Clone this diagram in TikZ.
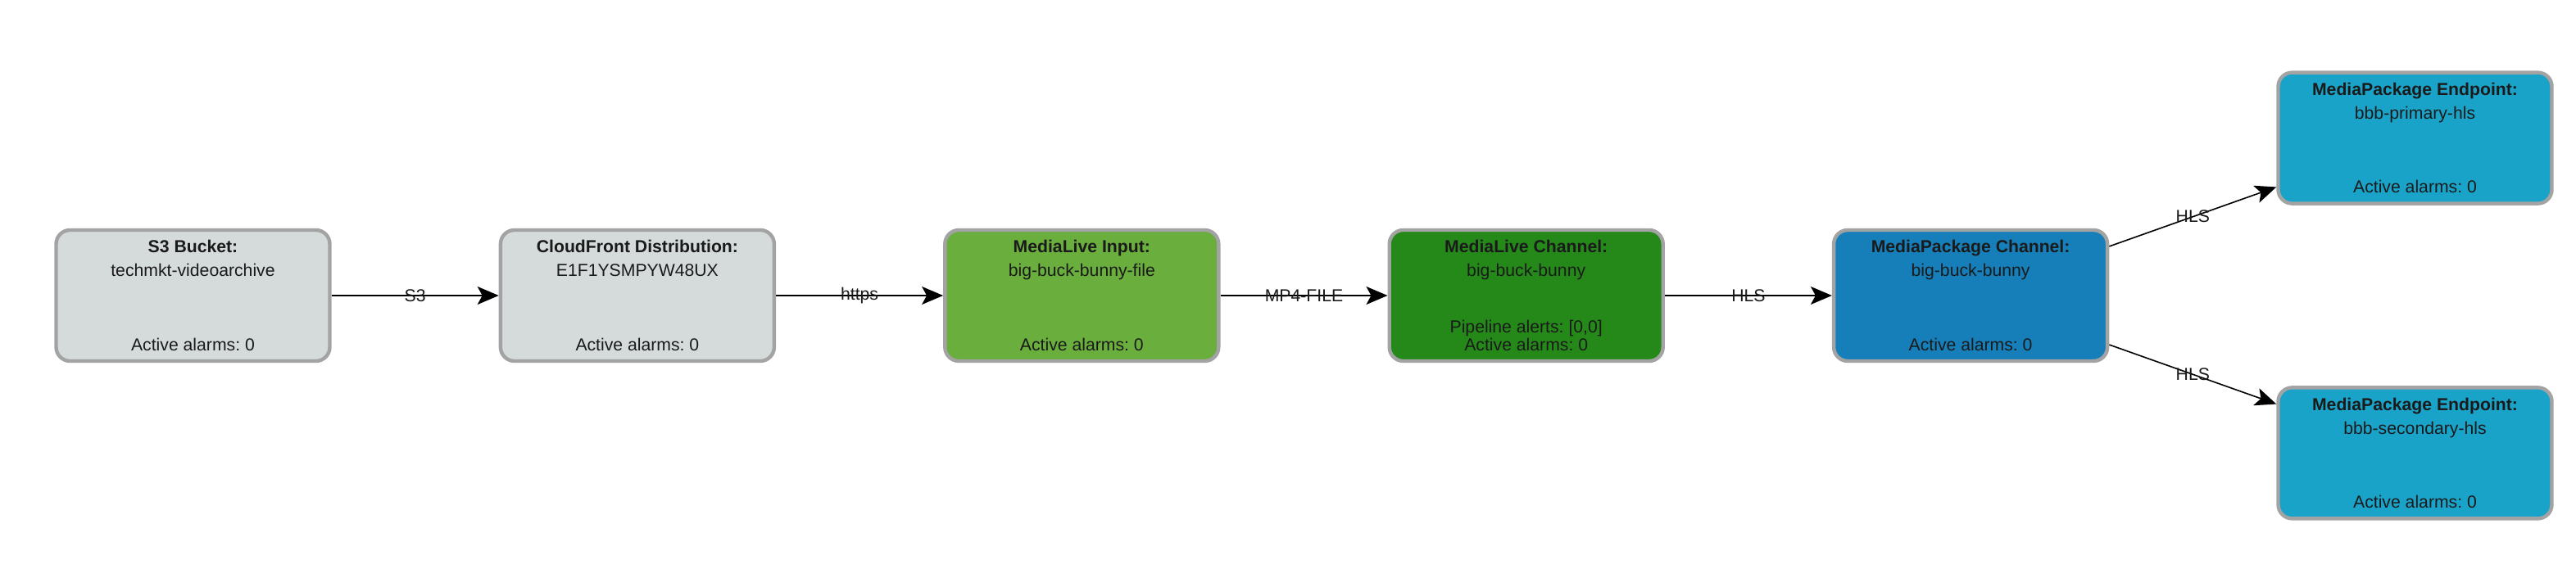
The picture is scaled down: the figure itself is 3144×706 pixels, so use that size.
\documentclass[tikz,border=0pt]{standalone}
\usepackage{fontspec}
\setmainfont{Liberation Sans}
\usetikzlibrary{positioning,arrows.meta}
\frenchspacing

\definecolor{boxgrey}{HTML}{D5DBDB}
\definecolor{boxedge}{HTML}{A3A3A3}
\definecolor{liveinput}{HTML}{6AAE3E}
\definecolor{livechannel}{HTML}{25891A}
\definecolor{pkgchannel}{HTML}{167FBA}
\definecolor{pkgendpoint}{HTML}{1AA3C9}
\definecolor{labelink}{HTML}{1A1A1A}

\tikzset{
  svcbox/.style={draw=boxedge, line width=2.2pt, rounded corners=8.5pt,
    minimum width=167pt, minimum height=80pt, inner sep=0pt},
  boxtitle/.style={anchor=base, inner sep=0pt, text=labelink, font=\fontsize{10.6}{12.7}\selectfont\bfseries},
  boxtext/.style={anchor=base, inner sep=0pt, text=labelink, font=\fontsize{10.6}{12.7}\selectfont},
  flow/.style={-{Stealth[length=13pt,width=11pt,inset=3pt]}, line width=0.8pt},
  flowlabel/.style={inner sep=0pt, text=labelink, font=\fontsize{10.6}{12.7}\selectfont}
}

\begin{document}
\begin{tikzpicture}[x=0.5pt, y=-0.5pt, node distance=102pt]
    \useasboundingbox (0,0) rectangle (3144,706);

    \node[svcbox, fill=boxgrey] (s3) at (235.5,361) {};
    \node[svcbox, fill=boxgrey, right=of s3] (cf) {};
    \node[svcbox, fill=liveinput, right=of cf] (mli) {};
    \node[svcbox, fill=livechannel, right=of mli] (mlc) {};
    \node[svcbox, fill=pkgchannel, right=of mlc] (mpc) {};
    \node[svcbox, fill=pkgendpoint, above right=14pt and 102pt of mpc] (ep1) {};
    \node[svcbox, fill=pkgendpoint, below right=14pt and 102pt of mpc] (ep2) {};

    % box texts
    \node[boxtitle] (s3-t) at ([yshift=-15pt]s3.north) {S3 Bucket:};
    \node[boxtext] (s3-i) at ([yshift=-29.5pt]s3.north) {techmkt-videoarchive};
    \node[boxtext] (s3-a) at ([yshift=7.5pt]s3.south) {Active alarms: 0};

    \node[boxtitle] (cf-t) at ([yshift=-15pt]cf.north) {CloudFront Distribution:};
    \node[boxtext] (cf-i) at ([yshift=-29.5pt]cf.north) {E1F1YSMPYW48UX};
    \node[boxtext] (cf-a) at ([yshift=7.5pt]cf.south) {Active alarms: 0};

    \node[boxtitle] (mli-t) at ([yshift=-15pt]mli.north) {MediaLive Input:};
    \node[boxtext] (mli-i) at ([yshift=-29.5pt]mli.north) {big-buck-bunny-file};
    \node[boxtext] (mli-a) at ([yshift=7.5pt]mli.south) {Active alarms: 0};

    \node[boxtitle] (mlc-t) at ([yshift=-15pt]mlc.north) {MediaLive Channel:};
    \node[boxtext] (mlc-i) at ([yshift=-29.5pt]mlc.north) {big-buck-bunny};
    \node[boxtext] (mlc-p) at ([yshift=18.5pt]mlc.south) {Pipeline alerts: [0,0]};
    \node[boxtext] (mlc-a) at ([yshift=7.5pt]mlc.south) {Active alarms: 0};

    \node[boxtitle] (mpc-t) at ([yshift=-15pt]mpc.north) {MediaPackage Channel:};
    \node[boxtext] (mpc-i) at ([yshift=-29.5pt]mpc.north) {big-buck-bunny};
    \node[boxtext] (mpc-a) at ([yshift=7.5pt]mpc.south) {Active alarms: 0};

    \node[boxtitle] (ep1-t) at ([yshift=-15pt]ep1.north) {MediaPackage Endpoint:};
    \node[boxtext] (ep1-i) at ([yshift=-29.5pt]ep1.north) {bbb-primary-hls};
    \node[boxtext] (ep1-a) at ([yshift=7.5pt]ep1.south) {Active alarms: 0};

    \node[boxtitle] (ep2-t) at ([yshift=-15pt]ep2.north) {MediaPackage Endpoint:};
    \node[boxtext] (ep2-i) at ([yshift=-29.5pt]ep2.north) {bbb-secondary-hls};
    \node[boxtext] (ep2-a) at ([yshift=7.5pt]ep2.south) {Active alarms: 0};

    % connectors
    \draw[flow] (s3) -- node[flowlabel] {S3} (cf);
    \draw[flow] (cf) -- node[flowlabel] {https} (mli);
    \draw[flow] (mli) -- node[flowlabel] {MP4-FILE} (mlc);
    \draw[flow] (mlc) -- node[flowlabel] {HLS} (mpc);
    \draw[flow] (mpc) -- node[flowlabel] {HLS} (ep1);
    \draw[flow] (mpc) -- node[flowlabel] {HLS} (ep2);
\end{tikzpicture}
\end{document}
